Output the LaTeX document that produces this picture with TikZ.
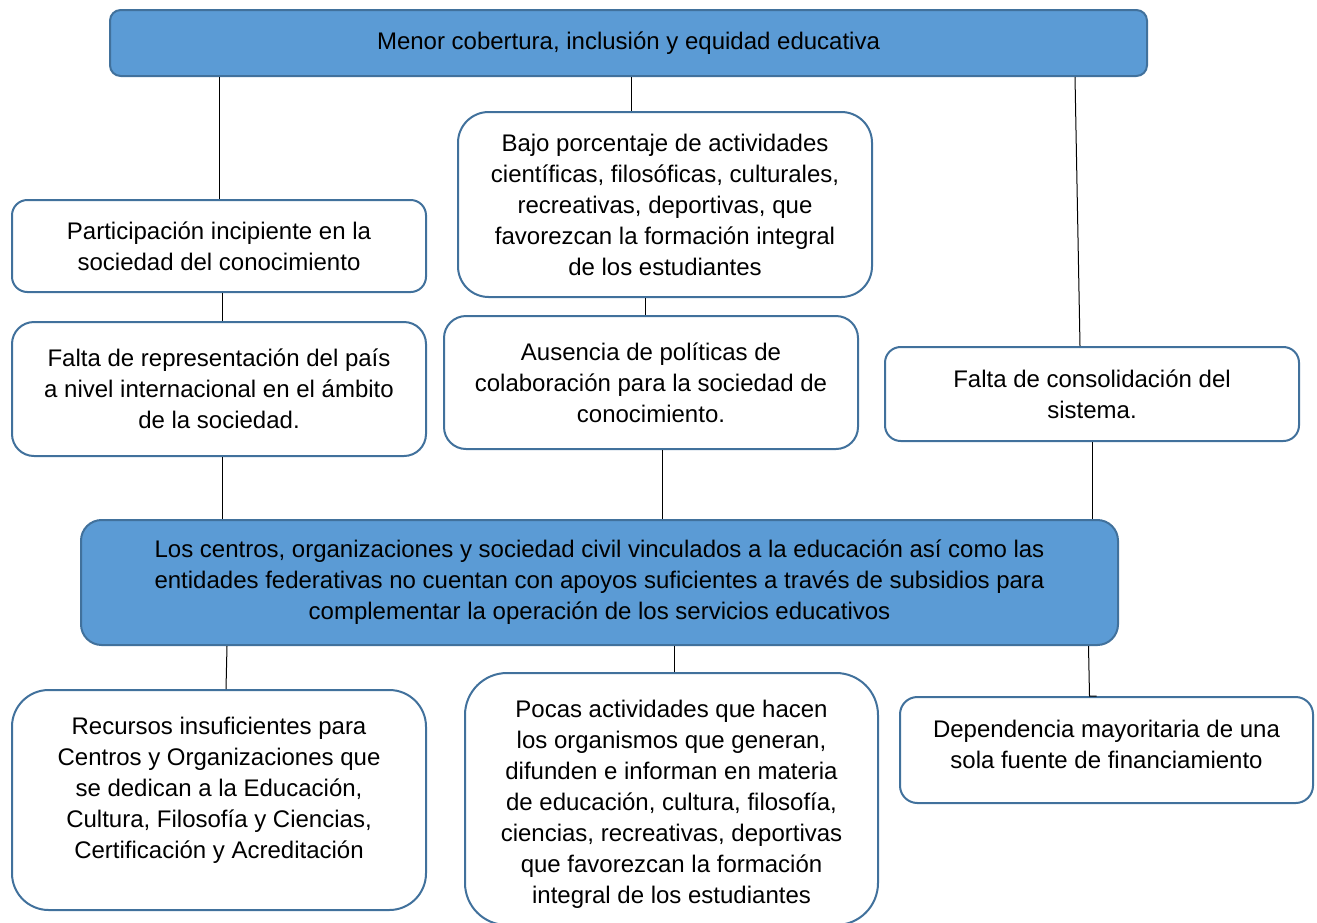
\documentclass[tikz,border=0pt]{standalone}
\usepackage{fontspec}
\setmainfont{Liberation Sans}
\usepackage{tikz}
\usetikzlibrary{positioning, calc}

\definecolor{boxfill}{HTML}{5B9BD5}
\definecolor{boxline}{HTML}{41719C}

\begin{document}
\begin{tikzpicture}[
  x=0.75pt, y=-0.75pt,
  boxtext/.style={align=center, inner sep=0pt, font=\fontsize{18}{23.25}\selectfont},
  causebox/.style={boxtext, draw=boxline, line width=1.5pt, fill=white, rounded corners=#1,
    minimum width=310.5pt},
  causebox/.default=11pt,
  mainbox/.style={causebox=#1, fill=boxfill, minimum width=777.75pt},
  mainbox/.default=8pt,
  link/.style={black, line width=0.75pt}
]
\useasboundingbox (0,0) rectangle (1317,922);

% Effect on top
\node[mainbox=8pt, minimum height=49.5pt] (Efecto) at (628.5,43) {Menor cobertura, inclusión y equidad educativa};

% Upper row, left column
\node[causebox=11.5pt, minimum height=69pt] (Partic) at (219,246) {Participación incipiente en la\\sociedad del conocimiento};
\node[causebox=16.5pt, minimum height=100.5pt] (FaltaRep) at (219,389) {Falta de representación del país\\a nivel internacional en el ámbito\\de la sociedad.};

% Upper row, middle column
\node[causebox=23pt, minimum height=138.75pt] (Bajo) at (665,204.5) {Bajo porcentaje de actividades\\científicas, filosóficas, culturales,\\recreativas, deportivas, que\\favorezcan la formación integral\\de los estudiantes};
\node[causebox=16.5pt, minimum height=99.75pt] (Ausencia) at (651,382.5) {Ausencia de políticas de\\colaboración para la sociedad de\\conocimiento.};

% Upper row, right column
\node[causebox=11.75pt, minimum height=70.5pt] (Consol) at (1092,394) {Falta de consolidación del\\sistema.};

% Central problem
\node[mainbox=15.5pt, minimum height=93.75pt] (Problema) at (599.5,582.5) {Los centros, organizaciones y sociedad civil vinculados a la educación así como las\\entidades federativas no cuentan con apoyos suficientes a través de subsidios para\\complementar la operación de los servicios educativos};

% Lower row (text sits high in these boxes)
\node[causebox=27.5pt, minimum height=165pt] (Recursos) at (219,800) {};
\node[boxtext] (RecursosTxt) at ($(Recursos.center)+(0,-10)$) {Recursos insuficientes para\\Centros y Organizaciones que\\se dedican a la Educación,\\Cultura, Filosofía y Ciencias,\\Certificación y Acreditación};
\node[causebox=31.5pt, minimum height=189pt, minimum width=309.75pt] (Pocas) at (671.5,799) {};
\node[boxtext] (PocasTxt) at ($(Pocas.center)+(0,5)$) {Pocas actividades que hacen\\los organismos que generan,\\difunden e informan en materia\\de educación, cultura, filosofía,\\ciencias, recreativas, deportivas\\que favorezcan la formación\\integral de los estudiantes};
\node[causebox=13pt, minimum height=79.5pt, minimum width=309.75pt] (Depend) at (1106.5,750) {};
\node[boxtext] (DependTxt) at ($(Depend.center)+(0,-6)$) {Dependencia mayoritaria de una\\sola fuente de financiamiento};

% Links up to the effect
\draw[link] (Partic.north) -- (Partic.north |- Efecto.south);
\draw[link] ([xshift=-25.5pt]Bajo.north) -- ([xshift=-25.5pt]Bajo.north |- Efecto.south);
\draw[link] ([xshift=-9pt]Consol.north) -- ([xshift=-12.75pt]Consol.north |- Efecto.south);
\draw[link] ([xshift=2.25pt]FaltaRep.north) -- ([xshift=2.25pt]FaltaRep.north |- Partic.south);
\draw[link] ([xshift=-4.5pt]Ausencia.north) -- ([xshift=-4.5pt]Ausencia.north |- Bajo.south);

% Links into the central problem
\draw[link] ([xshift=2.25pt]FaltaRep.south) -- ([xshift=2.25pt]FaltaRep.south |- Problema.north);
\draw[link] ([xshift=8.25pt]Ausencia.south) -- ([xshift=8.25pt]Ausencia.south |- Problema.north);
\draw[link] (Consol.south) -- (Consol.south |- Problema.north);

% Links down to the lower row
\draw[link] ([xshift=6pt]Problema.south -| Recursos.north) -- ([xshift=5.25pt]Recursos.north);
\draw[link] ([xshift=2.6pt]Pocas.north) -- ([xshift=2.6pt]Pocas.north |- Problema.south);
\draw[link] ([xshift=-13.5pt]Depend.north |- Problema.south) -- ([xshift=-12.75pt]Depend.north) -- ++(5.25pt,0);

\end{tikzpicture}
\end{document}
